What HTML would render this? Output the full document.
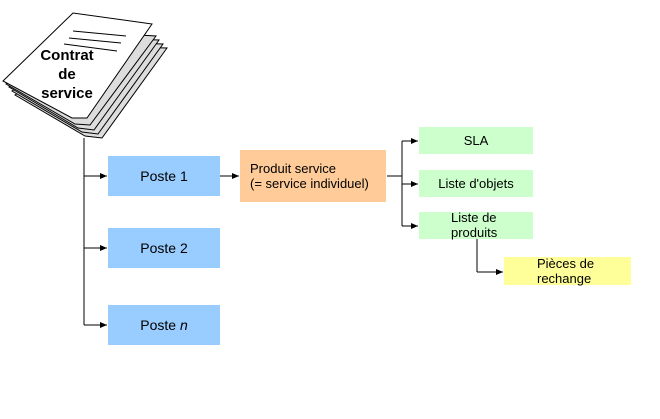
<!DOCTYPE html>
<html><head><style>
body{margin:0;background:#fff;}
.b{position:absolute;font-family:"Liberation Sans",sans-serif;font-size:13px;display:flex;align-items:center;justify-content:center;text-align:center;line-height:15px;color:#000}
</style></head><body>
<div style="position:relative;width:660px;height:419px;overflow:hidden">
<svg width="660" height="419" style="position:absolute;left:0;top:0">
<defs><marker id="a" markerWidth="8" markerHeight="8" refX="7" refY="4" orient="auto" markerUnits="userSpaceOnUse"><path d="M0,1 L7,4 L0,7z" fill="#000"/></marker></defs>
<g stroke="#000" stroke-width="1">
<polygon points="15,95 91,46 167,48 102,138 85,136" fill="#ddd"/>
<polygon points="12,91 88,42 163,44 98,134 82,132" fill="#ddd"/>
<polygon points="9,87 85,38 159,40 94,130 78,128" fill="#ddd"/>
<polygon points="6,84 82,32 156,36 90,125 75,124" fill="#ddd"/>
<polygon points="3,81 73,13 152,24 87,118 72,118" fill="#fff"/>
<line x1="73" y1="31" x2="126" y2="36"/>
<line x1="69" y1="38" x2="121" y2="43"/>
<line x1="64" y1="44" x2="117" y2="51"/>
</g>
<g stroke="#000" fill="none" stroke-width="1">
<line x1="84" y1="138" x2="84" y2="325"/>
<line x1="84" y1="176" x2="107" y2="176" marker-end="url(#a)"/>
<line x1="84" y1="248" x2="107" y2="248" marker-end="url(#a)"/>
<line x1="84" y1="325" x2="107" y2="325" marker-end="url(#a)"/>
<line x1="220" y1="176" x2="239" y2="176" marker-end="url(#a)"/>
<line x1="387" y1="176" x2="402" y2="176"/>
<line x1="402" y1="141" x2="402" y2="226"/>
<line x1="402" y1="141" x2="418" y2="141" marker-end="url(#a)"/>
<line x1="402" y1="184" x2="418" y2="184" marker-end="url(#a)"/>
<line x1="402" y1="226" x2="418" y2="226" marker-end="url(#a)"/>
<line x1="477" y1="239" x2="477" y2="272"/>
<line x1="477" y1="272" x2="503" y2="272" marker-end="url(#a)"/>
</g>
</svg>
<div class="b" style="left:28px;top:45px;width:78px;height:58px;font-weight:bold;font-size:15px;line-height:19px">Contrat<br>de<br>service</div>
<div class="b" style="left:108px;top:156px;width:112px;height:40px;background:#99ccff;font-size:14px">Poste 1</div>
<div class="b" style="left:108px;top:228px;width:112px;height:40px;background:#99ccff;font-size:14px">Poste 2</div>
<div class="b" style="left:108px;top:305px;width:112px;height:40px;background:#99ccff;font-size:14px">Poste&nbsp;<i>n</i></div>
<div class="b" style="left:240px;top:150px;width:146px;height:52px;background:#ffcc99;justify-content:flex-start;text-align:left;padding-left:10px;box-sizing:border-box">Produit service<br>(= service individuel)</div>
<div class="b" style="left:419px;top:127px;width:114px;height:27px;background:#ccffcc">SLA</div>
<div class="b" style="left:419px;top:170px;width:114px;height:27px;background:#ccffcc">Liste d'objets</div>
<div class="b" style="left:419px;top:212px;width:114px;height:27px;background:#ccffcc;justify-content:flex-start;padding-left:0;text-align:left"><span style="margin-left:32px;margin-top:-2px">Liste de<br>produits</span></div>
<div class="b" style="left:504px;top:257px;width:127px;height:28px;background:#ffff99;justify-content:flex-start;text-align:left"><span style="margin-left:33px">Pièces de<br>rechange</span></div>
</div>
</body></html>
